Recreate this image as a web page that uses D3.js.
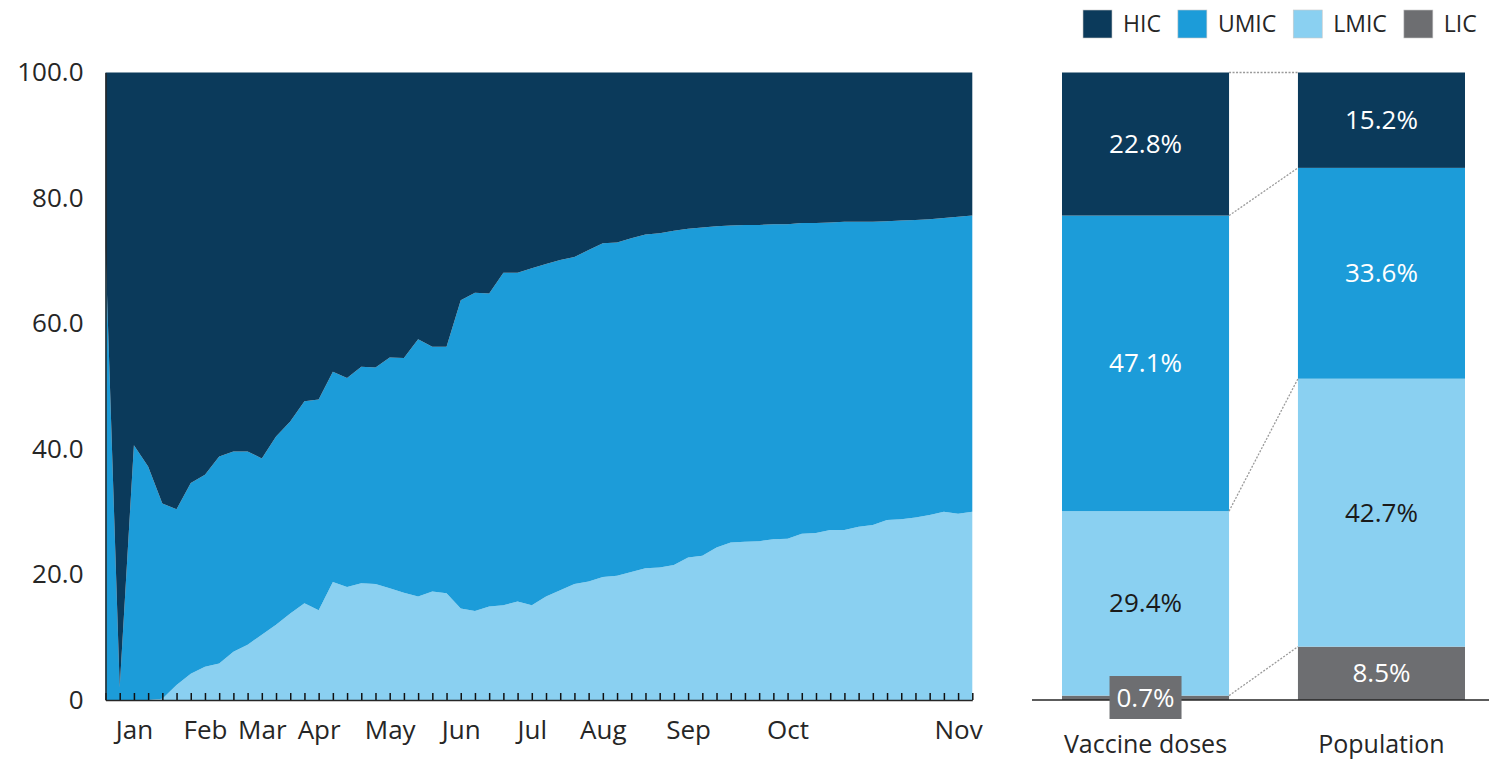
<!DOCTYPE html>
<html><head><meta charset="utf-8">
<script src="https://cdn.jsdelivr.net/npm/d3@7"></script>
<style>
html,body{margin:0;padding:0;background:#fff;}
svg{display:block;font-family:"Open Sans",sans-serif;}
</style></head><body>
<svg id="c" width="1489" height="764"></svg>
<script>
// ---- data ----
const xLabelIndex = [2, 7, 11, 15, 20, 25, 30, 35, 41, 48, 60];
const xLabelText  = ["Jan","Feb","Mar","Apr","May","Jun","Jul","Aug","Sep","Oct","Nov"];
const lmic = [0,0,0,0,0.2,2.4,4.2,5.3,5.8,7.7,8.8,10.4,12.0,13.8,15.4,14.3,18.8,18.0,18.6,18.5,17.8,17.1,16.5,17.3,17.0,14.6,14.2,14.9,15.1,15.7,15.1,16.5,17.5,18.5,18.9,19.6,19.8,20.4,21.0,21.1,21.5,22.7,23.0,24.3,25.1,25.2,25.3,25.6,25.7,26.5,26.6,27.1,27.1,27.6,27.9,28.7,28.8,29.1,29.5,30.0,29.7,30.0];
const umic = [72.0,2.0,40.6,37.2,31.1,28.0,30.4,30.6,33.0,31.9,30.8,28.1,30.0,30.6,32.2,33.6,33.5,33.3,34.5,34.5,36.8,37.4,41.0,39.0,39.3,49.1,50.7,49.9,53.0,52.4,53.7,53.0,52.6,52.1,52.8,53.2,53.1,53.2,53.2,53.3,53.3,52.4,52.3,51.2,50.5,50.5,50.4,50.2,50.1,49.5,49.4,49.0,49.1,48.6,48.3,47.6,47.6,47.4,47.1,46.8,47.3,47.2];
const hic  = [28.0,98.0,59.4,62.8,68.7,69.6,65.4,64.1,61.2,60.4,60.4,61.5,58.0,55.6,52.4,52.1,47.7,48.7,46.9,47.0,45.4,45.5,42.5,43.7,43.7,36.3,35.1,35.2,31.9,31.9,31.2,30.5,29.9,29.4,28.3,27.2,27.1,26.4,25.8,25.6,25.2,24.9,24.7,24.5,24.4,24.3,24.3,24.2,24.2,24.0,24.0,23.9,23.8,23.8,23.8,23.7,23.6,23.5,23.4,23.2,23.0,22.8];
const yTickValues = [0, 20, 40, 60, 80, 100];
const yTickLabels = ["0", "20.0", "40.0", "60.0", "80.0", "100.0"];
const groups = ["HIC", "UMIC", "LMIC", "LIC"];
const groupColors = ["#0b3a5b", "#1c9cd9", "#8ad0f1", "#6d6e71"];
const groupLabelColors = ["#ffffff", "#ffffff", "#1a1a1a", "#ffffff"];
const barCategories = ["Vaccine doses", "Population"];
const barLIC  = [0.7, 8.5];
const barLMIC = [29.4, 42.7];
const barUMIC = [47.1, 33.6];
const barHIC  = [22.8, 15.2];

// ---- drawing ----
const svg = d3.select("#c");
const color = d3.scaleOrdinal().domain(groups).range(groupColors);
const labelColor = d3.scaleOrdinal().domain(groups).range(groupLabelColors);
const axisColor = "#262626";
const fontSize = 26;

const y = d3.scaleLinear().domain([0, 100]).range([700, 72.5]);
const x = d3.scalePoint().domain(d3.range(hic.length)).range([105.5, 972.3]);

const rows = hic.map((h, i) => ({i, HIC: h, UMIC: umic[i], LMIC: lmic[i]}));
const stack = d3.stack().keys(["LMIC", "UMIC", "HIC"]);
const series = stack(rows);
const area = d3.area()
  .x(d => x(d.data.i))
  .y0(d => y(d[0]))
  .y1(d => y(d[1]));

svg.append("g").selectAll("path").data(series).join("path")
  .attr("d", area)
  .attr("fill", d => color(d.key));

// x axis
const labelMap = new Map(xLabelIndex.map((v, k) => [v, xLabelText[k]]));
const xAxis = svg.append("g").attr("transform", "translate(0,700)")
  .call(d3.axisBottom(x).tickSizeInner(-7).tickSizeOuter(0).tickPadding(21)
    .tickFormat(i => labelMap.get(i) || ""));
xAxis.select(".domain").attr("stroke", axisColor).attr("stroke-width", 1.5);
xAxis.selectAll(".tick line").attr("stroke", "#111").attr("stroke-width", 1.5);
xAxis.selectAll("text").attr("font-size", fontSize).attr("fill", axisColor)
  .attr("font-family", "Open Sans, sans-serif");

// y axis
const yAxis = svg.append("g").attr("transform", "translate(105.5,0)")
  .call(d3.axisLeft(y).tickValues(yTickValues).tickSize(0).tickPadding(22)
    .tickFormat((d, k) => yTickLabels[k]));
yAxis.select(".domain").attr("stroke", axisColor).attr("stroke-width", 1.5);
yAxis.selectAll("text").attr("font-size", fontSize).attr("fill", axisColor)
  .attr("font-family", "Open Sans, sans-serif");

// ---- right bars ----
const xb = d3.scaleBand().domain(barCategories).range([1062, 1465]).paddingInner(0.292).paddingOuter(0);
const barRows = barCategories.map((c, k) => ({cat: c, LIC: barLIC[k], LMIC: barLMIC[k], UMIC: barUMIC[k], HIC: barHIC[k]}));
const barSeries = d3.stack().keys(["LIC", "LMIC", "UMIC", "HIC"])(barRows);

const bg = svg.append("g");
barSeries.forEach(s => {
  bg.selectAll(null).data(s).join("rect")
    .attr("x", d => xb(d.data.cat))
    .attr("width", xb.bandwidth())
    .attr("y", d => y(d[1]))
    .attr("height", d => y(d[0]) - y(d[1]))
    .attr("fill", color(s.key));
});

// connectors
const cg = svg.append("g");
barSeries.forEach(s => {
  const a = s[0], b = s[1];
  cg.append("line")
    .attr("x1", xb(a.data.cat) + xb.bandwidth()).attr("y1", y(a[1]))
    .attr("x2", xb(b.data.cat)).attr("y2", y(b[1]))
    .attr("stroke", "#9a9a9a").attr("stroke-width", 1.3).attr("stroke-dasharray", "2,1.5");
});

// baseline
svg.append("line").attr("x1", 1032).attr("x2", 1489).attr("y1", y(0)).attr("y2", y(0))
  .attr("stroke", axisColor).attr("stroke-width", 1.5);

// segment labels
const lg = svg.append("g").attr("font-size", fontSize).attr("text-anchor", "middle");
barSeries.forEach(s => {
  s.forEach(d => {
    const v = d[1] - d[0];
    const cx = xb(d.data.cat) + xb.bandwidth() / 2;
    const txt = d3.format(".1f")(v) + "%";
    if (v < 3) {
      lg.append("rect").attr("x", cx - 36).attr("y", y(0) - 24).attr("width", 72).attr("height", 43)
        .attr("fill", color(s.key));
      lg.append("text").attr("x", cx).attr("y", y(0) - 2).attr("dy", "0.35em")
        .attr("fill", labelColor(s.key)).text(txt);
    } else {
      lg.append("text").attr("x", cx).attr("y", y((d[0] + d[1]) / 2)).attr("dy", "0.35em")
        .attr("fill", labelColor(s.key)).text(txt);
    }
  });
});

// category labels
svg.append("g").selectAll("text").data(barCategories).join("text")
  .attr("x", d => xb(d) + xb.bandwidth() / 2)
  .attr("y", 753)
  .attr("text-anchor", "middle")
  .attr("font-size", 25)
  .attr("fill", axisColor)
  .text(d => d);

// legend
const leg = svg.append("g");
let lx = 1083;
groups.forEach(g => {
  leg.append("rect").attr("x", lx).attr("y", 10).attr("width", 29).attr("height", 28)
    .attr("fill", color(g)).attr("stroke", "#c8c8c8").attr("stroke-width", 0.6);
  const t = leg.append("text").attr("x", lx + 40).attr("y", 24).attr("dy", "0.35em")
    .attr("font-size", 23).attr("fill", axisColor).text(g);
  lx += 40 + t.node().getComputedTextLength() + 17;
});
</script>
</body></html>
